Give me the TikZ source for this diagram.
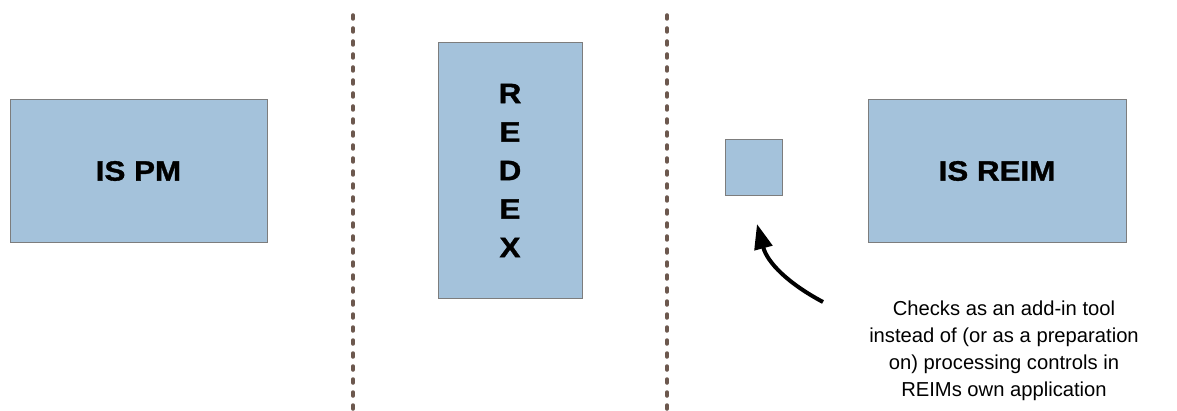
\documentclass[tikz,border=0pt]{standalone}
\usepackage{fontspec}
\setmainfont{Liberation Sans}
\newfontfamily\sysfont[FakeStretch=1.12,FakeBold=1.2]{Liberation Sans Bold}
\usetikzlibrary{arrows.meta,positioning}

\definecolor{boxblue}{RGB}{164,194,219}
\definecolor{boxgray}{RGB}{125,125,125}
\definecolor{sepbrown}{RGB}{108,88,78}

\begin{document}
\begin{tikzpicture}[x=1pt,y=1pt,
	sys/.style={shape=rectangle,draw=boxgray,fill=boxblue,line width=1pt,inner sep=0pt,align=center,font=\sysfont\fontsize{28}{38.5}\selectfont},
	sep/.style={draw=sepbrown,line width=3.5pt,line cap=round,dash pattern=on 4pt off 9pt}]
	\useasboundingbox (0,0) rectangle (1177,410);

	\node[sys,minimum width=257pt,minimum height=142pt] (ispm) at (138.5,239) {IS PM};
	\node[sys,minimum width=144pt,minimum height=255pt] (redex) at (510,239.5) {R\\E\\D\\E\\X};
	\node[sys,minimum width=57pt,minimum height=56pt] (check) at (753.5,242) {};
	\node[sys,minimum width=258pt,minimum height=142pt] (isreim) at (997,239) {IS REIM};
	\node[align=center,font=\fontsize{20.2}{27}\selectfont] (note) at (1004,59) {Checks as an add-in tool\\instead of (or as a preparation\\on) processing controls in\\REIMs own application};

	\coordinate (sepa) at (353,395);
	\coordinate (sepab) at (353,0);
	\coordinate (sepb) at (667,395);
	\coordinate (sepbb) at (667,0);
	\coordinate (tail) at (823,108);
	\coordinate (tip) at (757,186);

	\path [sep] (sepa) -- (sepab);
	\path [sep] (sepb) -- (sepbb);
	\draw [line width=4pt,-{Triangle[length=25pt,width=18pt]}] (tail) to[out=152,in=-75] (tip);
\end{tikzpicture}
\end{document}
